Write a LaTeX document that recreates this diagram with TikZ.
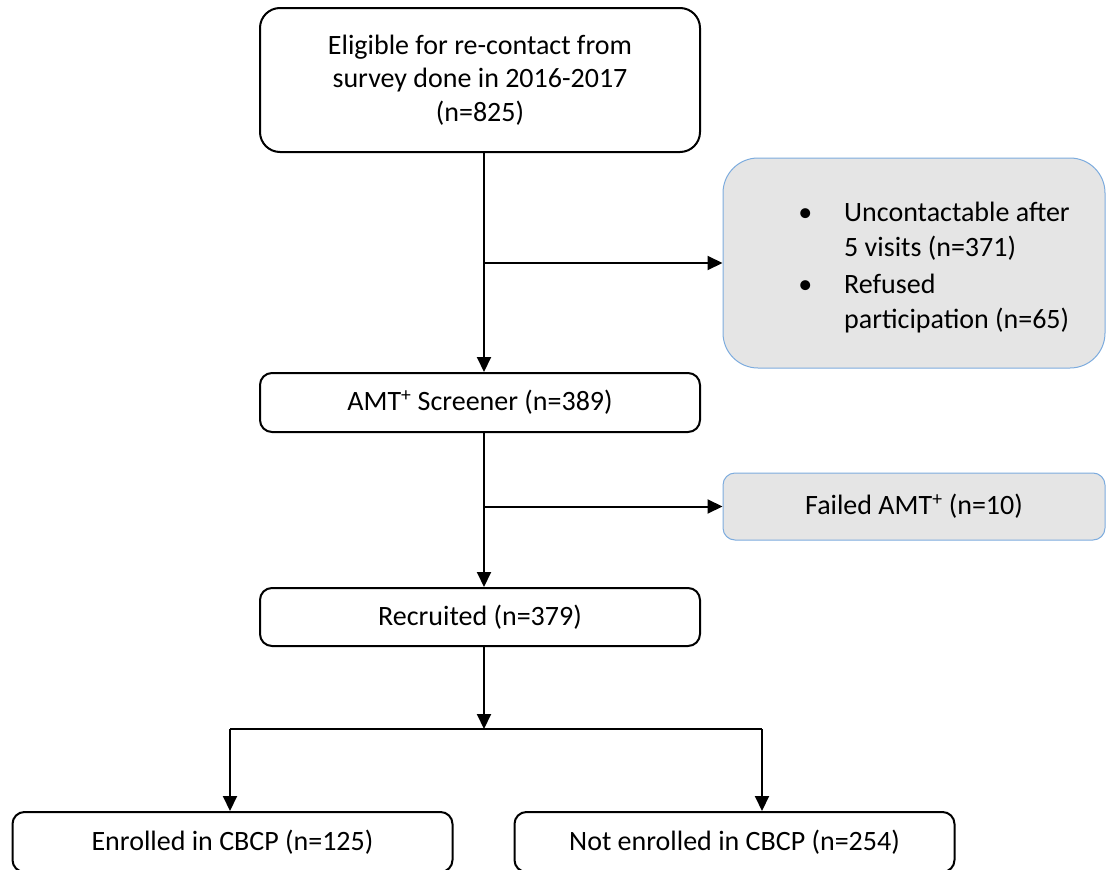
\documentclass[tikz,border=0pt]{standalone}
\usepackage{fontspec}
\setmainfont{Carlito}
\usetikzlibrary{arrows.meta}
\definecolor{exclline}{RGB}{125,172,222}

\begin{document}
\begin{tikzpicture}[x=1pt,y=-1pt,
    stepbox/.style={draw=black, line width=2pt, rounded corners=12pt, inner sep=0pt,
        minimum width=440pt, minimum height=58pt, align=center, font=\fontsize{28}{33.5}\selectfont},
    exclbox/.style={draw=exclline, fill=gray!20, line width=1pt, rounded corners=12pt, inner sep=0pt,
        minimum width=382pt, align=center, font=\fontsize{28}{34.5}\selectfont},
    flow/.style={line width=2pt, -{Triangle[length=15pt,width=14pt]}}]
    \useasboundingbox (0,0) rectangle (1106,870);
    \clip (0,0) rectangle (1106,870);
    \node[stepbox, rounded corners=20pt, minimum height=144pt] (elig) at (480,80)
        {Eligible for re-contact from\\survey done in 2016-2017\\(n=825)};
    \node[exclbox, rounded corners=35pt, minimum height=210pt] (lost) at (914,263)
        {\hspace*{40pt}\raisebox{-5pt}[\height][\depth]{\begin{tabular}{@{}l@{\hspace{32pt}}l@{}}
            \textbullet & Uncontactable after\\
                        & 5 visits (n=371)\\[3pt]
            \textbullet & Refused\\
                        & participation (n=65)
        \end{tabular}}};
    \node[stepbox, minimum height=59pt] (screen) at (480,402.5) {AMT\textsuperscript{+} Screener (n=389)};
    \node[exclbox, minimum height=67pt] (failed) at (914,506.5) {Failed AMT\textsuperscript{+} (n=10)};
    \node[stepbox] (recr) at (480,617) {Recruited (n=379)};
    \node[stepbox, minimum height=60pt] (enrl) at (232.5,842) {Enrolled in CBCP (n=125)};
    \node[stepbox, minimum height=60pt] (notenrl) at (734.5,842) {Not enrolled in CBCP (n=254)};
    % connectors
    \coordinate (spine) at (484,0);
    \coordinate (forkL) at (230,729);
    \coordinate (forkM) at (484,729);
    \coordinate (forkR) at (762,729);
    \draw[flow] (elig.south -| spine) -- (screen.north -| spine);
    \draw[flow] (spine |- lost.west) -- (lost.west);
    \draw[flow] (screen.south -| spine) -- (recr.north -| spine);
    \draw[flow] (spine |- failed.west) -- (failed.west);
    \draw[flow] (recr.south -| spine) -- (forkM);
    \draw[line width=1.4pt] (forkL) -- (forkR);
    \draw[flow] (forkL) -- (forkL |- enrl.north);
    \draw[flow] (forkR) -- (forkR |- notenrl.north);
\end{tikzpicture}
\end{document}
